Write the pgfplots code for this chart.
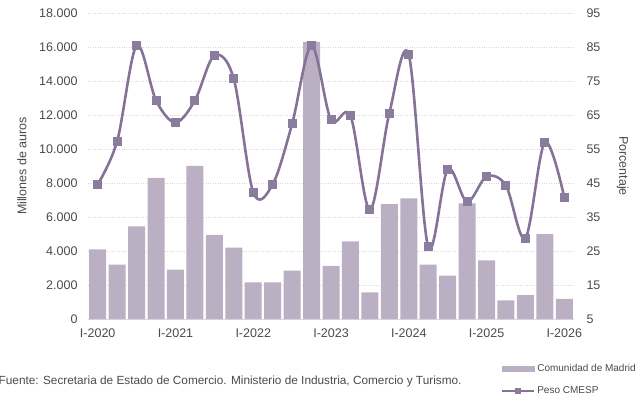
\documentclass[border=0pt]{standalone}
\usepackage{fontspec}
\setmainfont{Liberation Sans}
\usepackage{pgfplots}
\usepackage{pgfplotstable}
\pgfplotsset{compat=1.18}

\definecolor{barcol}{HTML}{BAAFC3}
\definecolor{linecol}{HTML}{857397}
\definecolor{markcol}{HTML}{8A7C9C}
\definecolor{txt}{HTML}{4A4A4A}
\definecolor{gridc}{HTML}{D9D9D9}

% trimestre, millones de euros
\pgfplotstableread{
x  v
0  4100
1  3200
2  5450
3  8300
4  2900
5  9000
6  4950
7  4200
8  2150
9  2150
10 2850
11 16300
12 3130
13 4570
14 1570
15 6750
16 7100
17 3200
18 2550
19 6800
20 3450
21 1100
22 1400
23 5000
24 1180
}\madrid

% peso sobre el total de España (%)
\pgfplotstableread{
x  p
0  44.6
1  57.3
2  85.4
3  69.3
4  62.8
5  69.3
6  82.5
7  75.6
8  42.3
9  44.6
10 62.4
11 85.4
12 63.6
13 64.8
14 37.1
15 65.5
16 82.7
17 26.2
18 49.0
19 39.5
20 46.9
21 44.2
22 28.8
23 57.0
24 40.8
}\peso

\begin{document}
\begin{tikzpicture}
\useasboundingbox (0pt,0pt) rectangle (643pt,405pt);

\pgfplotsset{
  base/.style={
    at={(88pt,86pt)}, anchor=south west,
    scale only axis, width=486pt, height=306pt,
    xmin=-0.5, xmax=24.5,
    major tick length=0pt,
    tick label style={font=\fontsize{12.5}{14}\selectfont, text=txt},
    label style={font=\fontsize{12.5}{14}\selectfont, text=txt},
    /pgf/number format/assume math mode=true,
  }
}

\begin{axis}[base,
  ymin=0, ymax=18000, ytick={0,2000,...,18000},
  /pgf/number format/.cd, 1000 sep={.}, /pgfplots/.cd,
  scaled y ticks=false,
  xtick={0,4,...,24},
  xticklabels={I-2020,I-2021,I-2022,I-2023,I-2024,I-2025,I-2026},
  xticklabel style={yshift=-6pt},
  yticklabel style={xshift=-7pt},
  axis x line*=bottom, axis y line*=left,
  x axis line style={draw=gridc, line width=0.8pt},
  y axis line style={draw=none},
  ymajorgrids, grid style={gridc, dotted, line width=0.7pt},
  ylabel={Millones de auros},
  ylabel style={at={(axis description cs:-0.136,0.5)}, anchor=center},
]
\addplot[ybar, bar width=17pt, fill=barcol, draw=none] table[x=x,y=v] {\madrid};
\end{axis}

\begin{axis}[base,
  ymin=5, ymax=95, ytick={5,15,...,95},
  axis x line=none, axis y line*=right,
  y axis line style={draw=none},
  yticklabel style={xshift=9pt},
  ylabel={Porcentaje},
  ylabel style={at={(axis description cs:1.1,0.5)}, anchor=center, rotate=180},
  legend style={at={(axis description cs:0.85,-0.14)}, anchor=north west,
    draw=none, fill=none, font=\fontsize{10}{12}\selectfont, text=txt,
    row sep=10pt, inner sep=0pt},
  legend cell align=left,
]
\addlegendimage{legend image code/.code={\fill[barcol] (0pt,-2.5pt) rectangle (32pt,2.5pt);}}
\addlegendentry{Comunidad de Madrid}
\addplot[linecol, line width=2.6pt, smooth, tension=0.55,
  mark=square*, mark size=4pt, mark options={fill=markcol, draw=markcol, line width=0pt},
  legend image code/.code={\draw[linecol, line width=2pt] (0pt,0pt) -- (32pt,0pt);
    \fill[markcol] (13.5pt,-2pt) rectangle (17.5pt,2pt);}]
  table[x=x,y=p] {\peso};
\addlegendentry{Peso CMESP}
\end{axis}

\node[anchor=west, inner sep=0pt, text=txt, font=\fontsize{11.8}{13}\selectfont]
  at (-1.5pt,24pt) {Fuente: Secretaria de Estado de Comercio. Ministerio de Industria, Comercio y Turismo.};
\end{tikzpicture}
\end{document}
